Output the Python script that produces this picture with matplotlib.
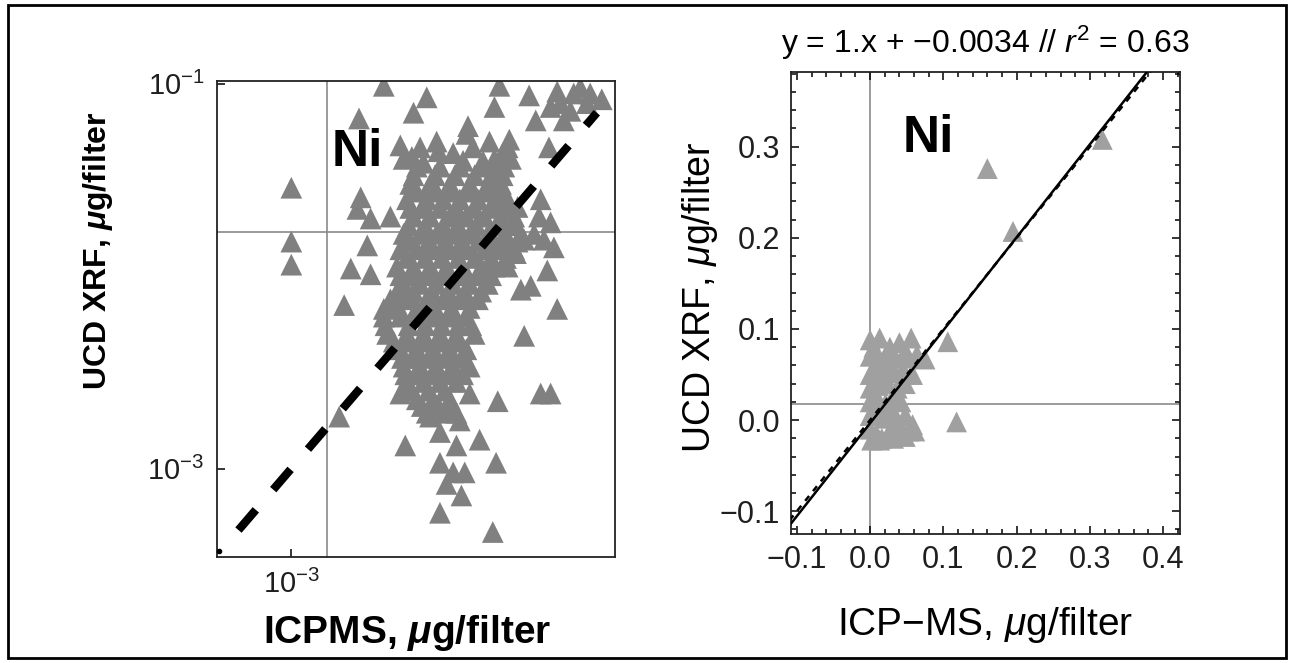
import numpy as np
import matplotlib
matplotlib.use("Agg")
import matplotlib.pyplot as plt
from matplotlib.patches import Rectangle
from matplotlib.ticker import FixedLocator, MultipleLocator, FuncFormatter, NullLocator

plt.rcParams.update({
    "font.family": "Liberation Sans",
    "mathtext.fontset": "custom",
    "mathtext.rm": "Liberation Sans",
    "mathtext.it": "Liberation Sans:italic",
    "mathtext.bf": "Liberation Sans:bold:italic",
})

# left panel: log10 of ug/filter (ICPMS, UCD XRF)
left_log_icpms = [
    -2.44, -2.18, -2.59, -2.26, -1.74, -1.77, -1.56, -1.39, -1.25, -1.12,
    -1.31, -1.52, -1.35, -1.21, -1.93, -1.94, -2.34, -2.32, -2.20, -2.11,
    -1.69, -1.44, -3.00, -3.00, -3.00, -2.58, -2.60, -2.52, -2.40, -2.54,
    -2.64, -2.52, -2.68, -2.44, -1.49, -1.50, -1.43, -1.41, -1.45, -1.61,
    -1.55, -1.39, -1.59, -1.49, -1.43, -1.75, -2.31, -1.86, -2.00, -1.76,
    -2.10, -2.02, -1.95, -2.06, -1.97, -2.10, -1.78, -2.71, -2.10, -2.34,
    -1.53, -1.47, -1.43, -1.29, -1.37, -1.19, -1.67, -1.77, -1.63, -1.59,
    -1.64, -1.69, -1.92, -1.98, -2.16,
    -2.22, -2.12, -2.02, -1.90, -1.80, -1.72, -2.27, -1.96, -1.84, -1.68,
    -2.24, -2.10, -1.98, -1.85, -1.77, -1.71,
    -2.28, -2.16, -2.04, -1.92, -1.81, -1.73,
    -2.30, -2.18, -2.08, -1.98, -1.87, -1.77, -1.69,
    -2.26, -2.16, -2.04, -1.94, -1.83, -1.73, -1.65,
    -2.32, -2.22, -2.12, -2.02, -1.92, -1.81, -1.71, -1.61,
    -2.34, -2.24, -2.14, -2.04, -1.94, -1.83, -1.73, -1.65,
    -2.36, -2.26, -2.16, -2.06, -1.96, -1.85, -1.77,
    -2.32, -2.22, -2.12, -2.02, -1.92, -1.81,
    -2.40, -2.30, -2.18, -2.08, -1.98, -1.87,
    -2.44, -2.34, -2.24, -2.14, -2.04, -1.94,
    -2.42, -2.30, -2.20, -2.10, -2.00, -1.89,
    -2.34, -2.24, -2.14, -2.04, -1.94,
    -2.32, -2.22, -2.12, -2.02, -1.92,
    -2.30, -2.20, -2.10, -2.00,
    -2.24, -2.14, -2.04,
    -2.18, -2.08, -2.00,
    -2.26, -2.13, -2.01, -1.89, -1.79, -1.72,
    -2.24, -2.12, -2.03, -1.93, -1.82, -1.73,
    -2.28, -2.21, -2.10, -2.00, -1.89, -1.78, -1.69,
    -2.29, -2.19, -2.08, -1.99, -1.88, -1.76, -1.66,
    -2.28, -2.17, -2.07, -1.97, -1.87, -1.77, -1.68, -1.63,
    -2.30, -2.19, -2.09, -1.99, -1.89, -1.79, -1.70,
    -2.34, -2.27, -2.17, -2.07, -1.97, -1.87, -1.79,
    -2.36, -2.26, -2.15, -2.05, -1.95, -1.85,
    -2.42, -2.35, -2.24, -2.13, -2.03, -1.92,
    -2.43, -2.29, -2.19, -2.09, -1.99, -1.91,
    -2.38, -2.29, -2.19, -2.09, -1.99,
    -2.33, -2.27, -2.17, -2.07, -1.97,
    -2.31, -2.25, -2.15, -2.05, -1.96,
    -2.27, -2.17, -2.07,
    -2.21, -2.11, -2.03,
]
left_log_xrf = [
    -1.01, -1.07, -1.18, -1.15, -1.01, -1.12, -1.06, -1.04, -1.02, -1.08,
    -1.14, -1.19, -1.19, -1.10, -1.22, -1.26, -1.32, -1.39, -1.41, -1.35,
    -1.33, -1.33, -1.54, -1.82, -1.94, -1.59, -1.65, -1.70, -1.69, -1.84,
    -1.96, -1.99, -2.15, -2.17, -1.60, -1.69, -1.72, -1.85, -1.97, -2.07,
    -2.05, -2.17, -2.31, -2.61, -2.61, -2.65, -2.88, -2.85, -2.88, -2.97,
    -2.97, -3.02, -3.02, -3.08, -3.14, -3.23, -3.33, -2.73, -2.81, -2.61,
    -1.78, -1.81, -1.12, -1.05, -1.10, -1.05, -1.39, -1.39, -1.64, -1.81,
    -1.88, -1.95, -2.61, -2.75, -2.73,
    -1.33, -1.30, -1.36, -1.33, -1.30, -1.36, -1.38, -1.40, -1.40, -1.29,
    -1.43, -1.43, -1.43, -1.43, -1.43, -1.43,
    -1.52, -1.52, -1.52, -1.52, -1.52, -1.52,
    -1.60, -1.60, -1.60, -1.60, -1.60, -1.60, -1.60,
    -1.69, -1.69, -1.69, -1.69, -1.69, -1.69, -1.69,
    -1.78, -1.78, -1.78, -1.78, -1.78, -1.78, -1.78, -1.78,
    -1.86, -1.86, -1.86, -1.86, -1.86, -1.86, -1.86, -1.86,
    -1.95, -1.95, -1.95, -1.95, -1.95, -1.95, -1.95,
    -2.04, -2.04, -2.04, -2.04, -2.04, -2.04,
    -2.12, -2.12, -2.12, -2.12, -2.12, -2.12,
    -2.21, -2.21, -2.21, -2.21, -2.21, -2.21,
    -2.30, -2.30, -2.30, -2.30, -2.30, -2.30,
    -2.38, -2.38, -2.38, -2.38, -2.38,
    -2.47, -2.47, -2.47, -2.47, -2.47,
    -2.55, -2.55, -2.55, -2.55,
    -2.64, -2.64, -2.64,
    -2.71, -2.71, -2.71,
    -1.475, -1.475, -1.475, -1.475, -1.475, -1.475,
    -1.56, -1.56, -1.56, -1.56, -1.56, -1.56,
    -1.645, -1.645, -1.645, -1.645, -1.645, -1.645, -1.645,
    -1.735, -1.735, -1.735, -1.735, -1.735, -1.735, -1.735,
    -1.82, -1.82, -1.82, -1.82, -1.82, -1.82, -1.82, -1.82,
    -1.905, -1.905, -1.905, -1.905, -1.905, -1.905, -1.905,
    -1.995, -1.995, -1.995, -1.995, -1.995, -1.995, -1.995,
    -2.08, -2.08, -2.08, -2.08, -2.08, -2.08,
    -2.165, -2.165, -2.165, -2.165, -2.165, -2.165,
    -2.255, -2.255, -2.255, -2.255, -2.255, -2.255,
    -2.34, -2.34, -2.34, -2.34, -2.34,
    -2.425, -2.425, -2.425, -2.425, -2.425,
    -2.51, -2.51, -2.51, -2.51, -2.51,
    -2.595, -2.595, -2.595,
    -2.675, -2.675, -2.675,
]
left_ref_x = 0.00165   # thin grey reference lines
left_ref_y = 0.0170
left_line_log = [-3.32, -1.15]  # extent of the 1:1 dashed line

# right panel: ug/filter, linear
right_icpms = [
    0.000, 0.013, 0.027, 0.040, 0.056, 0.048,
    0.000, 0.011, 0.021, 0.034, 0.053, 0.064,
    0.000, 0.008, 0.019, 0.032, 0.045, 0.058,
    0.000, 0.011, 0.023, 0.037, 0.048,
    0.000, 0.011, 0.021, 0.032, 0.042,
    0.000, 0.008, 0.019, 0.030, 0.037, 0.048,
    0.000, 0.008, 0.016, 0.027, 0.042, 0.053, 0.058,
    0.002, 0.013,
    0.005, 0.016, 0.030, 0.005, 0.016, 0.032, 0.048, 0.061,
    0.075, 0.106, 0.118, 0.160, 0.195, 0.317,
]
right_xrf = [
    0.088, 0.090, 0.080, 0.085, 0.090, 0.075,
    0.070, 0.065, 0.070, 0.068, 0.068, 0.072,
    0.050, 0.055, 0.050, 0.052, 0.055, 0.050,
    0.035, 0.038, 0.040, 0.035, 0.040,
    0.020, 0.022, 0.018, 0.025, 0.020,
    0.005, 0.008, 0.002, 0.010, 0.000, 0.005,
    -0.010, -0.015, -0.020, -0.012, -0.010, -0.012, -0.005,
    -0.022, -0.022,
    0.080, 0.045, 0.058, 0.028, 0.010, -0.020, -0.018, -0.012,
    0.067, 0.086, -0.002, 0.276, 0.207, 0.308,
]
fit_slope = 1.02
fit_intercept = -0.0034
r_squared = 0.63
right_ref_y = 0.0176

W, H = 1294, 663
TICK_COLOR = "#1f1f1f"

fig = plt.figure(figsize=(W / 100, H / 100), dpi=100)

# ---- left panel (log-log)
ax1 = fig.add_axes([217 / W, 1 - 557 / H, 398 / W, 476 / H])
ax1.set_xscale("log")
ax1.set_yscale("log")
ax1.set_xlim(10 ** -3.45, 10 ** -1.04)
ax1.set_ylim(10 ** -3.46, 10 ** -0.985)
ax1.axvline(left_ref_x, color="#8a8a8a", lw=1.2, zorder=1)
ax1.axhline(left_ref_y, color="#8a8a8a", lw=1.2, zorder=1)
ax1.scatter(10 ** np.array(left_log_icpms), 10 ** np.array(left_log_xrf),
            marker="^", s=245, color="#808080", edgecolors="none", zorder=2)
lx = 10 ** np.array(left_line_log)
ax1.plot(lx, lx, color="black", lw=6, ls=(0, (3.2, 3.2)), zorder=3)
ax1.plot([10 ** -3.44], [10 ** -3.43], "o", color="black", ms=3, clip_on=False, zorder=4)
ax1.xaxis.set_major_locator(FixedLocator([1e-3]))
ax1.yaxis.set_major_locator(FixedLocator([1e-3, 1e-1]))
ax1.xaxis.set_minor_locator(NullLocator())
ax1.yaxis.set_minor_locator(NullLocator())
ax1.tick_params(direction="in", length=6, width=1.1, labelsize=21,
                labelcolor=TICK_COLOR, pad=9)
for sp in ax1.spines.values():
    sp.set_linewidth(1.3)
    sp.set_color("#222222")
ax1.text(0.289, 0.821, "Ni", transform=ax1.transAxes, fontsize=37,
         fontweight="bold", ha="left", va="baseline")

fig.text(106 / W, 1 - 251 / H, r"UCD XRF, $\mathbf{\mu}$g/filter", rotation=90,
         rotation_mode="anchor", ha="center", va="baseline",
         fontsize=23, fontweight="bold")
fig.text(407 / W, 1 - 643 / H, r"ICPMS, $\mathbf{\mu}$g/filter",
         ha="center", va="baseline", fontsize=28, fontweight="bold")

# ---- right panel (linear)
ax2 = fig.add_axes([791 / W, 1 - 534 / H, 389 / W, 462 / H])
ax2.set_xlim(-0.108, 0.423)
ax2.set_ylim(-0.125, 0.382)
ax2.axvline(0, color="#8a8a8a", lw=1.2, zorder=1)
ax2.axhline(right_ref_y, color="#8a8a8a", lw=1.2, zorder=1)
ax2.scatter(right_icpms, right_xrf, marker="^", s=225, color="#a0a0a0",
            edgecolors="none", zorder=2)
xx = np.array([-0.11, 0.43])
ax2.plot(xx, xx, color="black", lw=1.8, ls=(0, (2.5, 2.5)), zorder=3)
ax2.plot(xx, fit_slope * xx + fit_intercept, color="black", lw=1.8, zorder=3)
ax2.xaxis.set_major_locator(MultipleLocator(0.1))
ax2.yaxis.set_major_locator(MultipleLocator(0.1))
ax2.xaxis.set_minor_locator(MultipleLocator(0.02))
ax2.yaxis.set_minor_locator(MultipleLocator(0.02))
fmt = FuncFormatter(lambda v, p: f"{round(v, 1):.1f}".replace("-", "\u2212")
                    if abs(v) > 1e-9 else "0.0")
ax2.xaxis.set_major_formatter(fmt)
ax2.yaxis.set_major_formatter(fmt)
ax2.tick_params(which="both", direction="in", top=True, right=True,
                width=1.1, labelsize=22, labelcolor=TICK_COLOR)
ax2.tick_params(which="major", length=6, pad=8)
ax2.tick_params(which="minor", length=3.5)
for sp in ax2.spines.values():
    sp.set_linewidth(1.3)
    sp.set_color("#222222")
ax2.text(0.288, 0.827, "Ni", transform=ax2.transAxes, fontsize=37,
         fontweight="bold", ha="left", va="baseline")
ax2.set_title(r"y = 1.x + $-$0.0034 // $\mathit{r}^{\mathrm{2}}$ = " + f"{r_squared:.2f}",
              fontsize=23, pad=14)

fig.text(710 / W, 1 - 297 / H, r"UCD XRF, $\mathit{\mu}$g/filter", rotation=90,
         rotation_mode="anchor", ha="center", va="baseline", fontsize=27)
fig.text(985 / W, 1 - 635 / H, r"ICP$-$MS, $\mathit{\mu}$g/filter",
         ha="center", va="baseline", fontsize=28)

# outer frame
fig.patches.append(Rectangle((8 / W, 1 - 658 / H), 1278 / W, 653 / H,
                             transform=fig.transFigure, fill=False,
                             edgecolor="black", lw=2))

fig.savefig("out.png", dpi=100)
